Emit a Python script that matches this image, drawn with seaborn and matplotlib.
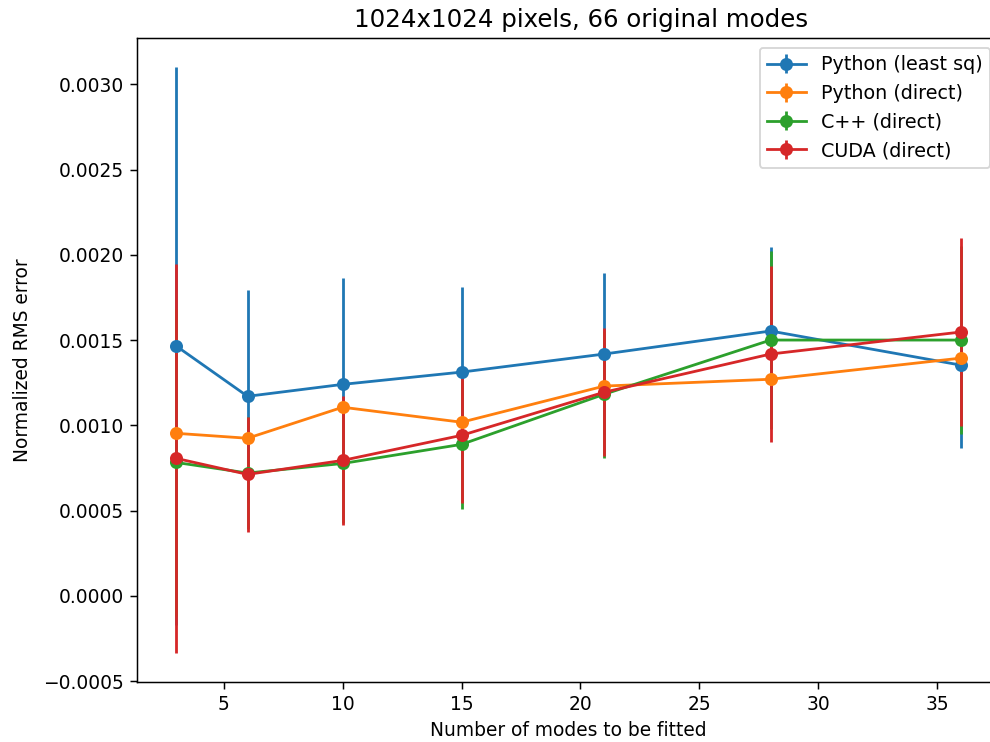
import numpy as np
import pandas as pd
import matplotlib
matplotlib.use("Agg")
import matplotlib.pyplot as plt
import seaborn as sns
from matplotlib.container import ErrorbarContainer

# ---- data ----
modes = [3, 6, 10, 15, 21, 28, 36]
series_names = ["Python (least sq)", "Python (direct)", "C++ (direct)", "CUDA (direct)"]

py_lsq = [0.001465, 0.00117, 0.00124, 0.001312, 0.001418, 0.001553, 0.001353]
py_lsq_err = [0.001635, 0.000624, 0.000625, 0.0005, 0.000476, 0.00049, 0.000488]

py_direct = [0.000953, 0.000924, 0.001106, 0.001018, 0.00123, 0.00127, 0.001394]
py_direct_err = [0.00004, 0.00004, 0.00004, 0.00004, 0.00004, 0.00004, 0.00004]

cpp_direct = [0.000782, 0.00072, 0.000776, 0.000888, 0.001182, 0.0015, 0.0015]
cpp_direct_err = [0.0009, 0.00033, 0.00035, 0.00038, 0.000374, 0.00052, 0.00055]

cuda_direct = [0.000806, 0.000712, 0.000794, 0.000941, 0.001194, 0.001418, 0.001547]
cuda_direct_err = [0.00114, 0.000336, 0.000377, 0.000398, 0.000376, 0.000515, 0.00055]

title = "1024x1024 pixels, 66 original modes"
xlabel = "Number of modes to be fitted"
ylabel = "Normalized RMS error"

values = [py_lsq, py_direct, cpp_direct, cuda_direct]
errors = [py_lsq_err, py_direct_err, cpp_direct_err, cuda_direct_err]
colors = sns.color_palette("tab10", 4)

df = pd.concat(
    [pd.DataFrame({"modes": modes, "rms": v, "err": e, "series": n})
     for n, v, e in zip(series_names, values, errors)],
    ignore_index=True,
)

DPI = 134
fig = plt.figure(figsize=(990 / DPI, 742 / DPI), dpi=DPI)
ax = fig.add_axes([137 / 990, (742 - 682) / 742, 863 / 990, (682 - 38) / 742])

# error bars (drawn below the lines, as matplotlib's errorbar does)
bar_containers = []
for name, c in zip(series_names, colors):
    sub = df[df["series"] == name]
    eb = ax.errorbar(sub["modes"], sub["rms"], yerr=sub["err"], fmt="none",
                     ecolor=c, elinewidth=1.5, zorder=2)
    bar_containers.append(eb)

n_before = len(ax.lines)
sns.lineplot(data=df, x="modes", y="rms", hue="series", hue_order=series_names,
             palette=colors, marker="o", markersize=7, markeredgewidth=0,
             linewidth=1.5, legend=False, ax=ax, zorder=2.1, sort=False,
             estimator=None)
lines = ax.lines[n_before:]

handles = []
for ln, eb, name in zip(lines, bar_containers, series_names):
    handles.append(ErrorbarContainer((ln, (), eb[2]), has_xerr=False,
                                     has_yerr=True, label=name))
ax.legend(handles=handles, labels=series_names, loc="upper right",
          fontsize=10.3)

ax.set_title(title, fontsize=13.2, x=0.515)
ax.set_xlabel(xlabel)
ax.set_ylabel(ylabel, labelpad=6)

fig.savefig("out.png", dpi=DPI)
